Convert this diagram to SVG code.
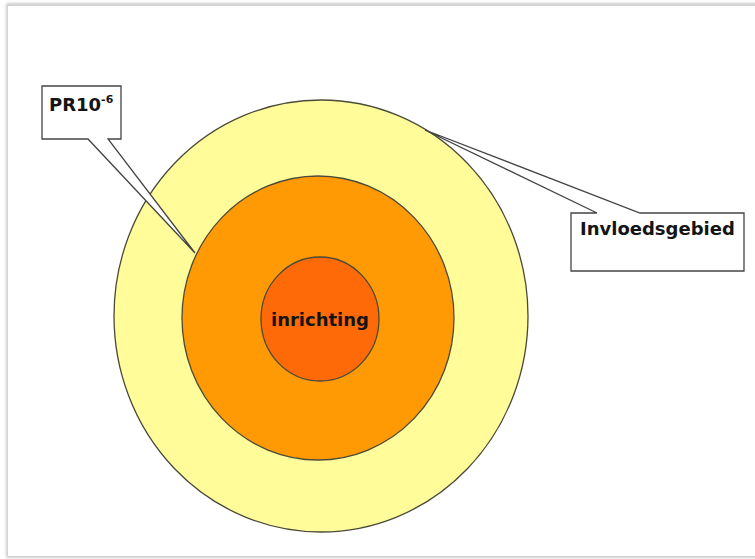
<svg xmlns="http://www.w3.org/2000/svg" width="755" height="559" viewBox="0 0 755 559">
<defs>
<filter id="sh" x="-5%" y="-5%" width="110%" height="110%"><feGaussianBlur stdDeviation="1.5"/></filter>
<style>
.ring{stroke:#4a4a3a;stroke-width:1.3}
.call{fill:#fff;stroke:#444;stroke-width:1.3;stroke-linejoin:miter}
.lbl{font-family:Verdana,"DejaVu Sans",sans-serif;font-weight:bold;fill:#141414}
</style>
</defs>
<rect width="755" height="559" fill="#fff"/>
<g id="frame">
<rect x="8" y="5" width="760" height="551" fill="none" stroke="#bbb" stroke-width="3" filter="url(#sh)"/>
<rect x="8" y="6" width="760" height="550" fill="#fff"/>
</g>
<g id="outer"><ellipse class="ring" cx="321" cy="316" rx="207" ry="216" fill="#FFFC99"/></g>
<g id="middle"><ellipse class="ring" cx="318" cy="318" rx="136" ry="142" fill="#FF9A05"/></g>
<g id="inner"><ellipse class="ring" cx="320" cy="319" rx="59" ry="62" fill="#FF6A08"/>
<text class="lbl" x="320" y="326" font-size="18" text-anchor="middle">inrichting</text></g>
<g id="connectors">
<path class="call" d="M42 86 H121 V139 H108 L195 253 L88 139 H42 Z"/>
<path class="call" d="M571 213 H597 L425 130 L640 213 H744 V271 H571 Z"/>
</g>
<g id="pr10"><text class="lbl" x="49" y="111" font-size="18">PR10<tspan font-size="11" dy="-8">-6</tspan></text></g>
<g id="invloed"><text class="lbl" x="580" y="235" font-size="18">Invloedsgebied</text></g>
</svg>
